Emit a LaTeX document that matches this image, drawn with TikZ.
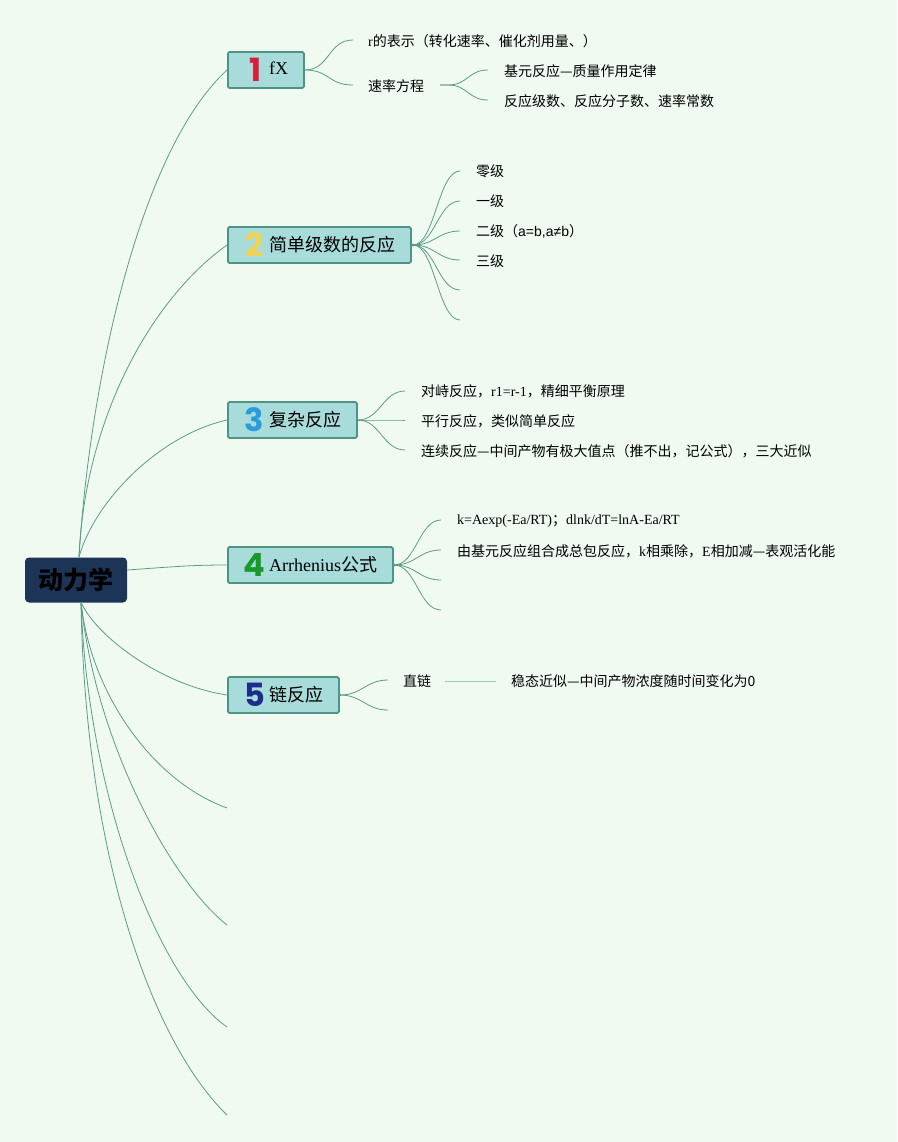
\documentclass[tikz,border=0pt]{standalone}
\usepackage{fontspec}
\setmainfont{Liberation Serif}
\newfontfamily\cjk{Noto Sans CJK SC}
\newfontfamily\numfnt{Poppins}
\newfontfamily\latsans{Liberation Sans}
\newcommand{\latn}[1]{{\rmfamily #1}}
\definecolor{bgc}{HTML}{F0FAF1}
\definecolor{boxfill}{HTML}{A8DCDB}
\definecolor{boxline}{HTML}{4E9383}
\definecolor{rootfill}{HTML}{1C3557}
\definecolor{linec}{HTML}{5C9C87}
\definecolor{linelight}{HTML}{9CC8B6}
\definecolor{numred}{HTML}{D81E3A}
\definecolor{numyellow}{HTML}{F2D34F}
\definecolor{numblue}{HTML}{2A9BDB}
\definecolor{numgreen}{HTML}{19992A}
\definecolor{numnavy}{HTML}{1B2C8A}
\begin{document}
\begin{tikzpicture}[x=1pt,y=-1pt,
  conn/.style={draw=linec, line width=0.8pt},
  rootbox/.style={fill=rootfill, rounded corners=4pt, minimum width=102pt, minimum height=45pt, inner sep=0pt, text=black, font=\cjk\bfseries\fontsize{25}{27}\selectfont},
  topicbox/.style={draw=boxline, fill=boxfill, line width=1.8pt, minimum height=36pt, inner sep=0pt, anchor=west, rounded corners=1.5pt},
  numlab/.style={font=\numfnt\bfseries\fontsize{32}{32}\selectfont, inner sep=0pt, anchor=center},
  ttext/.style={font=\cjk\fontsize{18}{20}\selectfont, inner sep=0pt, anchor=west},
  sub/.style={font=\cjk\fontsize{14}{16}\selectfont, inner sep=0pt, anchor=west},
  dot/.style={fill=linec}
]
\fill[bgc] (0,0) rectangle (897,1142);
\useasboundingbox (0,0) rectangle (897,1142);

% root
\node[rootbox] (root) at (76,580) {动力学};
\coordinate (rN) at (79,557);
\coordinate (rS) at (81,602);
\coordinate (rE) at (127,570);

% topic boxes
\node[topicbox, minimum width=76pt] (t1) at (227,70) {};
\node[topicbox, minimum width=183pt] (t2) at (227,245) {};
\node[topicbox, minimum width=129pt] (t3) at (227,420) {};
\node[topicbox, minimum width=165pt] (t4) at (227,565) {};
\node[topicbox, minimum width=111pt] (t5) at (227,695) {};

\node[numlab, text=numred] (n1) at (255.5,70) {1};
\node[numlab, text=numyellow] (n2) at (254.5,245) {2};
\node[numlab, text=numblue] (n3) at (254.5,420) {3};
\node[numlab, text=numgreen] (n4) at (254.5,565) {4};
\node[numlab, text=numnavy] (n5) at (254.5,695) {5};

\node[ttext] (l1) at (269,68) {\latn{fX}};
\node[ttext] (l2) at (269,245) {简单级数的反应};
\node[ttext] (l3) at (269,420) {复杂反应};
\node[ttext] (l4) at (269,565) {\latn{Arrhenius}公式};
\node[ttext] (l5) at (269,695) {链反应};

% root connectors
\draw[conn] (rN) .. controls (90,380) and (140,150) .. (t1.west);
\draw[conn] (rN) .. controls (85,420) and (150,300) .. (t2.west);
\draw[conn] (rN) .. controls (95,500) and (160,435) .. (t3.west);
\draw[conn] (rE) .. controls (170,567) and (190,565) .. (t4.west);
\draw[conn] (rS) .. controls (95,635) and (160,685) .. (t5.west);
\coordinate (e6) at (227,808);
\coordinate (e7) at (227,925);
\coordinate (e8) at (227,1027);
\coordinate (e9) at (227,1115);
\draw[conn] (rS) .. controls (90,690) and (150,780) .. (e6);
\draw[conn] (rS) .. controls (95,740) and (170,880) .. (e7);
\draw[conn] (rS) .. controls (88,800) and (160,980) .. (e8);
\draw[conn] (rS) .. controls (85,850) and (150,1040) .. (e9);

% topic 1 children
\coordinate (e11) at (353,40);
\coordinate (e12) at (353,85);
\node[sub] (s11) at (368,41) {\latn{r}的表示（转化速率、催化剂用量、）};
\node[sub] (s12) at (368,86) {速率方程};
\draw[conn] (t1.east) .. controls +(25,0) and +(-25,0) .. (e11);
\draw[conn] (t1.east) .. controls +(25,0) and +(-25,0) .. (e12);
\coordinate (s12o) at (440,85);
\coordinate (e121) at (488,70);
\coordinate (e122) at (488,100);
\node[sub] (s121) at (504,71) {基元反应—质量作用定律};
\node[sub] (s122) at (504,101) {反应级数、反应分子数、速率常数};
\draw[conn] (s12o) -- ++(8,0) .. controls +(20,0) and +(-20,0) .. (e121);
\draw[conn] (s12o) -- ++(8,0) .. controls +(20,0) and +(-20,0) .. (e122);

% topic 2 children
\coordinate (t2o) at (413,245);
\fill[dot] (t2o) circle (1.6pt);
\foreach \i/\yy in {1/171,2/201,3/231,4/260,5/290,6/320}{
  \coordinate (e2\i) at (460,\yy);
  \draw[conn] (t2o) .. controls +(22,0) and +(-22,0) .. (e2\i);
}
\node[sub] (s21) at (476,171) {零级};
\node[sub] (s22) at (476,201) {一级};
\node[sub] (s23) at (476,231) {二级（{\latsans a=b,a≠b}）};
\node[sub] (s24) at (476,261) {三级};

% topic 3 children
\coordinate (t3o) at (358,420);
\foreach \i/\yy in {1/391,2/420,3/450}{
  \coordinate (e3\i) at (405,\yy);
  \draw[conn] (t3o) .. controls +(22,0) and +(-22,0) .. (e3\i);
}
\node[sub] (s31) at (421,391) {对峙反应，\latn{r1=r-1}，精细平衡原理};
\node[sub] (s32) at (421,421) {平行反应，类似简单反应};
\node[sub] (s33) at (421,451) {连续反应—中间产物有极大值点（推不出，记公式），三大近似};

% topic 4 children
\coordinate (t4o) at (394,565);
\fill[dot] (t4o) circle (1.6pt);
\foreach \i/\yy in {1/520,2/550,3/580,4/610}{
  \coordinate (e4\i) at (441,\yy);
  \draw[conn] (t4o) .. controls +(22,0) and +(-22,0) .. (e4\i);
}
\node[sub] (s41) at (457,521) {\latn{k=Aexp(-Ea/RT)}；\latn{dlnk/dT=lnA-Ea/RT}};
\node[sub] (s42) at (457,551) {由基元反应组合成总包反应，\latn{k}相乘除，\latn{E}相加减—表观活化能};

% topic 5 children
\coordinate (t5o) at (340,695);
\fill[dot] (t5o) circle (1.4pt);
\coordinate (e51) at (388,680);
\coordinate (e52) at (388,710);
\draw[conn] (t5o) .. controls +(22,0) and +(-22,0) .. (e51);
\draw[conn] (t5o) .. controls +(22,0) and +(-22,0) .. (e52);
\node[sub] (s51) at (403,681) {直链};
\node[sub] (s511) at (511,681) {稳态近似—中间产物浓度随时间变化为0};
\draw[draw=linelight, line width=1pt] ([xshift=14pt]s51.east) -- ([xshift=-15pt]s511.west);
\end{tikzpicture}
\end{document}
